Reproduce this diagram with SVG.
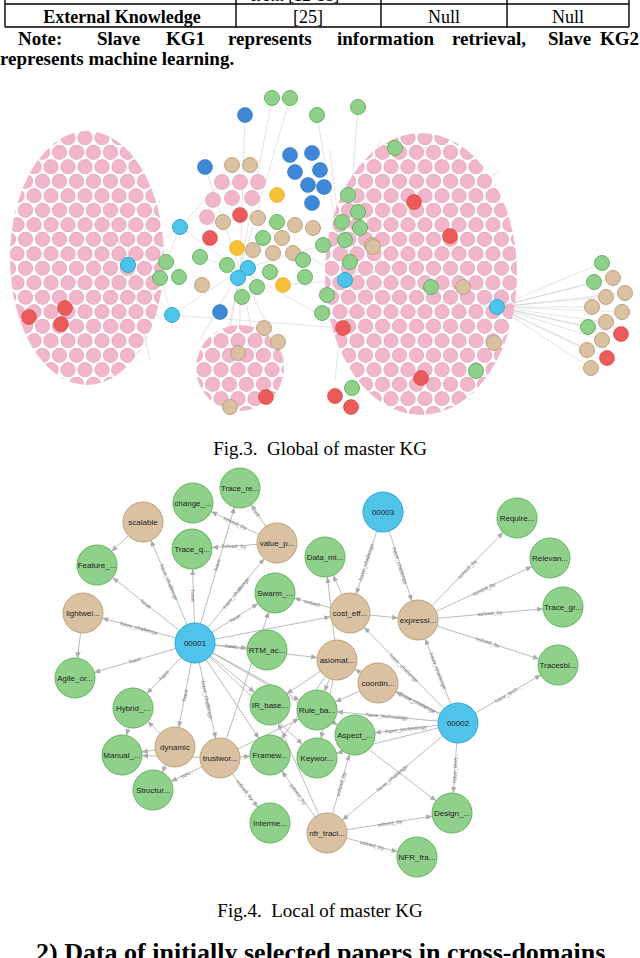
<svg xmlns="http://www.w3.org/2000/svg" width="640" height="958" viewBox="0 0 640 958">
<style>
.tx{font-family:"Liberation Serif",serif;fill:#000}
.b{font-weight:bold}
.g{fill:#8fd18a;stroke:#64b560;stroke-width:1}
.t{fill:#d9c1a1;stroke:#bfa27e;stroke-width:1}
.c{fill:#4fc3ea;stroke:#2ea8d3;stroke-width:1}
.p{fill:#f2b6cb;stroke:#d996ae;stroke-width:.6}
.bl{fill:#3f88d8;stroke:#2e70bd;stroke-width:.6}
.r{fill:#ec5a5a;stroke:#cf4242;stroke-width:.6}
.o{fill:#f7c035;stroke:#daa41d;stroke-width:.6}
.nl{font-family:"Liberation Sans",Arial,sans-serif;font-size:8px;fill:#222;text-anchor:middle;dominant-baseline:central}
.el{font-family:"Liberation Sans",Arial,sans-serif;font-size:5.5px;fill:#777;text-anchor:middle;dominant-baseline:central}
.e{stroke:#aaa;stroke-width:.8;fill:none;marker-end:url(#ar)}
.h{stroke:#bbb;stroke-width:.4}
</style>
<defs>
<marker id="ar" markerUnits="userSpaceOnUse" markerWidth="30" markerHeight="10" viewBox="-30 -5 30 10" refX="20" refY="0" orient="auto"><path d="M0,0 L-6,-2.6 L-6,2.6z" fill="#aaa"/></marker>
<pattern id="pk" patternUnits="userSpaceOnUse" width="17" height="29">
<circle cx="8.5" cy="7.25" r="7.2" class="p"/><circle cx="0" cy="21.75" r="7.2" class="p"/><circle cx="17" cy="21.75" r="7.2" class="p"/>
</pattern>
</defs>
<rect width="640" height="958" fill="#fff"/>

<g id="table">
<path d="M5,0V27M236,0V27M381,0V27M507,0V27M629,0V27M5,4H629M5,27H629" stroke="#000" stroke-width="1.4" fill="none"/>
<text x="295" y="1" class="tx" font-size="17" text-anchor="middle">from [12-18]</text>
<text x="122" y="23" class="tx b" font-size="18" text-anchor="middle">External Knowledge</text>
<text x="308" y="23" class="tx" font-size="18" text-anchor="middle">[25]</text>
<text x="444" y="23" class="tx" font-size="18" text-anchor="middle">Null</text>
<text x="568" y="23" class="tx" font-size="18" text-anchor="middle">Null</text>
<text y="45" class="tx b" font-size="19"><tspan x="18">Note:</tspan><tspan x="97">Slave</tspan><tspan x="166">KG1</tspan><tspan x="228">represents</tspan><tspan x="337">information</tspan><tspan x="452">retrieval,</tspan><tspan x="548">Slave</tspan></text>
<text x="639" y="45" class="tx b" font-size="19" text-anchor="end">KG2</text>
<text x="0" y="65" class="tx b" font-size="19">represents machine learning.</text>
</g>

<g id="global-graph">
<g id="hub-lines" class="h">
<path d="M128,265L20,200M128,265L15,250M128,265L20,300M128,265L40,340M128,265L70,370M128,265L110,380M128,265L150,360M128,265L160,320M128,265L40,160M128,265L80,140M128,265L130,150M128,265L160,200M128,265L160,240M128,265L30,225M128,265L60,200M128,265L100,200M128,265L90,330M128,265L140,300M128,265L180,227M128,265L172,315"/>
<path d="M345,280L330,150M345,280L380,140M345,280L430,140M345,280L500,170M345,280L515,230M345,280L515,290M345,280L505,350M345,280L470,400M345,280L420,410M345,280L360,410M345,280L335,380M345,280L400,200M345,280L460,250M345,280L430,330M345,280L390,370M345,280L380,260M345,280L400,300M345,280L300,250M345,280L280,285M345,280L358,107M345,280L317,115"/>
<path d="M240,270L200,340M240,270L215,400M240,270L240,410M240,270L265,400M240,270L285,360M240,270L230,330M240,270L272,98M240,270L290,98M240,270L245,115M240,270L205,167M240,270L180,227M240,270L172,315M240,270L200,257M240,270L323,245M240,270L343,328M172,315L343,328M180,227L222,182M180,227L160,278M172,315L160,278"/>
<path d="M497,307L602,263M497,307L594,282M497,307L613,278M497,307L606,297M497,307L625,293M497,307L592,307M497,307L622,312M497,307L606,322M497,307L588,327M497,307L621,334M497,307L602,340M497,307L587,350M497,307L607,358M497,307L591,368M497,307L420,300"/>
</g>
<ellipse cx="87" cy="258" rx="77" ry="127" fill="url(#pk)"/>
<ellipse cx="240" cy="368" rx="44" ry="43" fill="url(#pk)"/>
<ellipse cx="421" cy="274" rx="96" ry="141" fill="url(#pk)"/>
<g id="center-nodes">
<circle cx="222" cy="182" r="7.5" class="p"/><circle cx="240" cy="182" r="7.5" class="p"/><circle cx="258" cy="182" r="7.5" class="p"/><circle cx="213" cy="200" r="7.5" class="p"/><circle cx="232" cy="198" r="7.5" class="p"/><circle cx="252" cy="198" r="7.5" class="p"/><circle cx="207" cy="217" r="7.5" class="p"/>
<circle cx="272" cy="98" r="7.5" class="g"/><circle cx="290" cy="98" r="7.5" class="g"/><circle cx="317" cy="115" r="7.5" class="g"/><circle cx="358" cy="107" r="7.5" class="g"/>
<circle cx="245" cy="115" r="7.5" class="bl"/><circle cx="290" cy="155" r="7.5" class="bl"/><circle cx="312" cy="153" r="7.5" class="bl"/><circle cx="205" cy="167" r="7.5" class="bl"/><circle cx="295" cy="172" r="7.5" class="bl"/><circle cx="320" cy="170" r="7.5" class="bl"/><circle cx="308" cy="185" r="7.5" class="bl"/><circle cx="324" cy="187" r="7.5" class="bl"/><circle cx="312" cy="203" r="7.5" class="bl"/><circle cx="220" cy="312" r="7.5" class="bl"/>
<circle cx="232" cy="165" r="7.5" class="t"/><circle cx="250" cy="165" r="7.5" class="t"/>
<circle cx="277" cy="195" r="7.5" class="o"/><circle cx="237" cy="248" r="7.5" class="o"/><circle cx="283" cy="285" r="7.5" class="o"/>
<circle cx="240" cy="215" r="7.5" class="r"/><circle cx="210" cy="238" r="7.5" class="r"/>
<circle cx="223" cy="222" r="7.5" class="t"/><circle cx="258" cy="218" r="7.5" class="t"/><circle cx="295" cy="225" r="7.5" class="t"/><circle cx="313" cy="228" r="7.5" class="t"/><circle cx="282" cy="238" r="7.5" class="t"/><circle cx="253" cy="250" r="7.5" class="t"/><circle cx="273" cy="253" r="7.5" class="t"/><circle cx="293" cy="253" r="7.5" class="t"/><circle cx="202" cy="285" r="7.5" class="t"/><circle cx="372" cy="245" r="7.5" class="t"/>
<circle cx="277" cy="222" r="7.5" class="g"/><circle cx="263" cy="238" r="7.5" class="g"/><circle cx="348" cy="195" r="7.5" class="g"/><circle cx="358" cy="212" r="7.5" class="g"/><circle cx="342" cy="222" r="7.5" class="g"/><circle cx="360" cy="228" r="7.5" class="g"/><circle cx="323" cy="245" r="7.5" class="g"/><circle cx="345" cy="240" r="7.5" class="g"/><circle cx="200" cy="257" r="7.5" class="g"/><circle cx="166" cy="262" r="7.5" class="g"/><circle cx="160" cy="278" r="7.5" class="g"/><circle cx="179" cy="277" r="7.5" class="g"/><circle cx="227" cy="265" r="7.5" class="g"/><circle cx="270" cy="272" r="7.5" class="g"/><circle cx="257" cy="287" r="7.5" class="g"/><circle cx="303" cy="260" r="7.5" class="g"/><circle cx="305" cy="277" r="7.5" class="g"/><circle cx="242" cy="297" r="7.5" class="g"/><circle cx="327" cy="295" r="7.5" class="g"/><circle cx="322" cy="313" r="7.5" class="g"/><circle cx="350" cy="262" r="7.5" class="g"/>
<circle cx="180" cy="227" r="7.5" class="c"/><circle cx="128" cy="265" r="7.5" class="c"/><circle cx="248" cy="268" r="7.5" class="c"/><circle cx="238" cy="278" r="7.5" class="c"/><circle cx="345" cy="280" r="7.5" class="c"/><circle cx="172" cy="315" r="7.5" class="c"/><circle cx="497" cy="307" r="7.5" class="c"/>
</g>
<g id="cluster-extras">
<circle cx="29" cy="317" r="7.5" class="r"/><circle cx="65" cy="308" r="7.5" class="r"/><circle cx="61" cy="324" r="7.5" class="r"/>
<circle cx="414" cy="202" r="7.5" class="r"/><circle cx="450" cy="236" r="7.5" class="r"/><circle cx="343" cy="328" r="7.5" class="r"/><circle cx="421" cy="378" r="7.5" class="r"/><circle cx="335" cy="396" r="7.5" class="r"/><circle cx="351" cy="407" r="7.5" class="r"/>
<circle cx="395" cy="148" r="7.5" class="g"/><circle cx="431" cy="287" r="7.5" class="g"/><circle cx="463" cy="287" r="7.5" class="t"/><circle cx="373" cy="247" r="7.5" class="t"/><circle cx="476" cy="371" r="7.5" class="g"/><circle cx="494" cy="343" r="7.5" class="t"/><circle cx="352" cy="388" r="7.5" class="g"/>
<circle cx="264" cy="328" r="7.5" class="t"/><circle cx="278" cy="342" r="7.5" class="t"/><circle cx="238" cy="353" r="7.5" class="t"/><circle cx="266" cy="397" r="7.5" class="r"/><circle cx="230" cy="407" r="7.5" class="t"/>
<circle cx="602" cy="263" r="7.5" class="g"/><circle cx="594" cy="282" r="7.5" class="g"/><circle cx="613" cy="278" r="7.5" class="t"/><circle cx="606" cy="297" r="7.5" class="t"/><circle cx="625" cy="293" r="7.5" class="t"/><circle cx="592" cy="307" r="7.5" class="t"/><circle cx="622" cy="312" r="7.5" class="t"/><circle cx="606" cy="322" r="7.5" class="t"/><circle cx="588" cy="327" r="7.5" class="g"/><circle cx="621" cy="334" r="7.5" class="r"/><circle cx="602" cy="340" r="7.5" class="t"/><circle cx="587" cy="350" r="7.5" class="t"/><circle cx="607" cy="358" r="7.5" class="r"/><circle cx="591" cy="368" r="7.5" class="t"/>
</g>
</g>
<text x="320" y="455" class="tx" font-size="19" text-anchor="middle" xml:space="preserve">Fig.3.  Global of master KG</text>

<g id="connectors">
<path class="e" d="M195,643L143,522"/><path class="e" d="M195,643L97,565"/><path class="e" d="M195,643L83,613"/><path class="e" d="M195,643L75,678"/><path class="e" d="M195,643L192,549"/><path class="e" d="M195,643L240,488"/><path class="e" d="M195,643L277,543"/><path class="e" d="M195,643L275,593"/><path class="e" d="M195,643L267,650"/><path class="e" d="M195,643L350,613"/><path class="e" d="M195,643L337,660"/><path class="e" d="M195,643L270,705"/><path class="e" d="M195,643L317,710"/><path class="e" d="M195,643L270,755"/><path class="e" d="M195,643L317,758"/><path class="e" d="M195,643L133,708"/><path class="e" d="M195,643L175,747"/><path class="e" d="M195,643L220,758"/><path class="e" d="M195,643L355,735"/>
<path class="e" d="M277,543L193,503"/><path class="e" d="M277,543L192,549"/><path class="e" d="M277,543L240,488"/>
<path class="e" d="M143,522L97,565"/><path class="e" d="M83,613L75,678"/>
<path class="e" d="M350,613L325,557"/><path class="e" d="M350,613L275,593"/><path class="e" d="M350,613L418,620"/>
<path class="e" d="M383,512L350,613"/><path class="e" d="M383,512L418,620"/>
<path class="e" d="M418,620L517,518"/><path class="e" d="M418,620L550,558"/><path class="e" d="M418,620L563,607"/><path class="e" d="M418,620L558,665"/>
<path class="e" d="M458,723L418,620"/><path class="e" d="M458,723L350,613"/><path class="e" d="M458,723L337,660"/><path class="e" d="M458,723L378,683"/><path class="e" d="M458,723L317,710"/><path class="e" d="M458,723L355,735"/><path class="e" d="M458,723L317,758"/><path class="e" d="M458,723L558,665"/><path class="e" d="M458,723L452,813"/><path class="e" d="M458,723L327,833"/>
<path class="e" d="M175,747L122,755"/><path class="e" d="M175,747L153,790"/><path class="e" d="M175,747L133,708"/>
<path class="e" d="M220,758L122,755"/><path class="e" d="M220,758L153,790"/><path class="e" d="M220,758L270,823"/><path class="e" d="M220,758L270,755"/><path class="e" d="M220,758L275,593"/><path class="e" d="M220,758L317,710"/>
<path class="e" d="M327,833L270,755"/><path class="e" d="M327,833L270,705"/><path class="e" d="M327,833L355,735"/><path class="e" d="M327,833L452,813"/><path class="e" d="M327,833L417,857"/>
<path class="e" d="M337,660L270,705"/><path class="e" d="M337,660L317,710"/><path class="e" d="M337,660L270,755"/><path class="e" d="M337,660L325,557"/><path class="e" d="M337,660L317,758"/>
<path class="e" d="M378,683L317,710"/><path class="e" d="M317,710L452,813"/><path class="e" d="M133,708L122,755"/>
</g>
<g id="edge-labels">
<text class="el" transform="translate(169,582) rotate(67)">have_challenge</text>
<text class="el" transform="translate(146,604) rotate(38)">have</text>
<text class="el" transform="translate(139,628) rotate(15)">have_challenge</text>
<text class="el" transform="translate(135,660) rotate(-16)">have</text>
<text class="el" transform="translate(193,596) rotate(88)">have</text>
<text class="el" transform="translate(217,565) rotate(-74)">have</text>
<text class="el" transform="translate(236,593) rotate(-51)">have_challenge</text>
<text class="el" transform="translate(235,618) rotate(-32)">have</text>
<text class="el" transform="translate(234,546) rotate(3)">solved_by</text>
<text class="el" transform="translate(235,523) rotate(25)">solved_by</text>
<text class="el" transform="translate(258,515) rotate(56)">sol...</text>
<text class="el" transform="translate(312,603) rotate(15)">solved</text>
<text class="el" transform="translate(366,562) rotate(-72)">have_challenge</text>
<text class="el" transform="translate(400,566) rotate(72)">have_challenge</text>
<text class="el" transform="translate(467,569) rotate(-46)">solved_by</text>
<text class="el" transform="translate(484,589) rotate(-25)">solved_by</text>
<text class="el" transform="translate(490,613) rotate(-5)">solved_by</text>
<text class="el" transform="translate(488,642) rotate(18)">solved_by</text>
<text class="el" transform="translate(438,671) rotate(69)">have_challenge</text>
<text class="el" transform="translate(404,668) rotate(45)">have_challenge</text>
<text class="el" transform="translate(418,703) rotate(27)">have_challenge</text>
<text class="el" transform="translate(387,716) rotate(5)">have_technology</text>
<text class="el" transform="translate(406,729) rotate(-7)">have_technology</text>
<text class="el" transform="translate(508,694) rotate(-30)">have_tech...</text>
<text class="el" transform="translate(455,768) rotate(-86)">have_tech...</text>
<text class="el" transform="translate(392,778) rotate(-40)">have_challenge</text>
<text class="el" transform="translate(390,823) rotate(-9)">solved_by</text>
<text class="el" transform="translate(372,845) rotate(15)">solved_by</text>
<text class="el" transform="translate(341,784) rotate(-74)">solved_by</text>
<text class="el" transform="translate(298,794) rotate(54)">solved_by</text>
<text class="el" transform="translate(245,790) rotate(52)">solved_by</text>
<text class="el" transform="translate(187,774) rotate(-25)">solv...</text>
<text class="el" transform="translate(185,695) rotate(-79)">have</text>
<text class="el" transform="translate(164,675) rotate(-46)">have</text>
<text class="el" transform="translate(207,700) rotate(78)">have_challenge</text>
<text class="el" transform="translate(231,646) rotate(5)">have</text>
</g>

<g id="n-TR"><circle cx="240" cy="488" r="20" class="g"/><text x="240" y="488" class="nl">Trace_re...</text></g>
<g id="n-CH"><circle cx="193" cy="503" r="20" class="g"/><text x="193" y="503" class="nl">change_...</text></g>
<g id="n-SC"><circle cx="143" cy="522" r="20" class="t"/><text x="143" y="522" class="nl">scalable</text></g>
<g id="n-TQ"><circle cx="192" cy="549" r="20" class="g"/><text x="192" y="549" class="nl">Trace_q...</text></g>
<g id="n-VP"><circle cx="277" cy="543" r="20" class="t"/><text x="277" y="543" class="nl">value_p...</text></g>
<g id="n-DM"><circle cx="325" cy="557" r="20" class="g"/><text x="325" y="557" class="nl">Data_mi...</text></g>
<g id="n-FE"><circle cx="97" cy="565" r="20" class="g"/><text x="97" y="565" class="nl">Feature_...</text></g>
<g id="n-SW"><circle cx="275" cy="593" r="20" class="g"/><text x="275" y="593" class="nl">Swarm_...</text></g>
<g id="n-LW"><circle cx="83" cy="613" r="20" class="t"/><text x="83" y="613" class="nl">lightwei...</text></g>
<g id="n-CE"><circle cx="350" cy="613" r="20" class="t"/><text x="350" y="613" class="nl">cost_eff...</text></g>
<g id="n-N1"><circle cx="195" cy="643" r="20" class="c"/><text x="195" y="643" class="nl">00001</text></g>
<g id="n-RT"><circle cx="267" cy="650" r="20" class="g"/><text x="267" y="650" class="nl">RTM_ac...</text></g>
<g id="n-AS"><circle cx="337" cy="660" r="20" class="t"/><text x="337" y="660" class="nl">asiomat...</text></g>
<g id="n-AG"><circle cx="75" cy="678" r="20" class="g"/><text x="75" y="678" class="nl">Agile_or...</text></g>
<g id="n-N3"><circle cx="383" cy="512" r="20" class="c"/><text x="383" y="512" class="nl">00003</text></g>
<g id="n-RQ"><circle cx="517" cy="518" r="20" class="g"/><text x="517" y="518" class="nl">Require...</text></g>
<g id="n-RL"><circle cx="550" cy="558" r="20" class="g"/><text x="550" y="558" class="nl">Relevan...</text></g>
<g id="n-EX"><circle cx="418" cy="620" r="20" class="t"/><text x="418" y="620" class="nl">expressi...</text></g>
<g id="n-TG"><circle cx="563" cy="607" r="20" class="g"/><text x="563" y="607" class="nl">Trace_gr...</text></g>
<g id="n-TB"><circle cx="558" cy="665" r="20" class="g"/><text x="558" y="665" class="nl">Tracesbi...</text></g>
<g id="n-CO"><circle cx="378" cy="683" r="20" class="t"/><text x="378" y="683" class="nl">coordin...</text></g>
<g id="n-HY"><circle cx="133" cy="708" r="20" class="g"/><text x="133" y="708" class="nl">Hybrid_...</text></g>
<g id="n-IR"><circle cx="270" cy="705" r="20" class="g"/><text x="270" y="705" class="nl">IR_base...</text></g>
<g id="n-RB"><circle cx="317" cy="710" r="20" class="g"/><text x="317" y="710" class="nl">Rule_ba...</text></g>
<g id="n-N2"><circle cx="458" cy="723" r="20" class="c"/><text x="458" y="723" class="nl">00002</text></g>
<g id="n-AP"><circle cx="355" cy="735" r="20" class="g"/><text x="355" y="735" class="nl">Aspect_...</text></g>
<g id="n-DY"><circle cx="175" cy="747" r="20" class="t"/><text x="175" y="747" class="nl">dynamic</text></g>
<g id="n-MA"><circle cx="122" cy="755" r="20" class="g"/><text x="122" y="755" class="nl">Manual_...</text></g>
<g id="n-TW"><circle cx="220" cy="758" r="20" class="t"/><text x="220" y="758" class="nl">trustwor...</text></g>
<g id="n-FR"><circle cx="270" cy="755" r="20" class="g"/><text x="270" y="755" class="nl">Framew...</text></g>
<g id="n-KW"><circle cx="317" cy="758" r="20" class="g"/><text x="317" y="758" class="nl">Keywor...</text></g>
<g id="n-ST"><circle cx="153" cy="790" r="20" class="g"/><text x="153" y="790" class="nl">Structur...</text></g>
<g id="n-DE"><circle cx="452" cy="813" r="20" class="g"/><text x="452" y="813" class="nl">Design_...</text></g>
<g id="n-IN"><circle cx="270" cy="823" r="20" class="g"/><text x="270" y="823" class="nl">Interme...</text></g>
<g id="n-NF"><circle cx="327" cy="833" r="20" class="t"/><text x="327" y="833" class="nl">nfr_traci...</text></g>
<g id="n-NFR"><circle cx="417" cy="857" r="20" class="g"/><text x="417" y="857" class="nl">NFR_fra...</text></g>

<text x="320" y="917" class="tx" font-size="19" text-anchor="middle" xml:space="preserve">Fig.4.  Local of master KG</text>
<text x="36" y="961" class="tx b" font-size="26">2) Data of initially selected papers in cross-domains</text>
</svg>
